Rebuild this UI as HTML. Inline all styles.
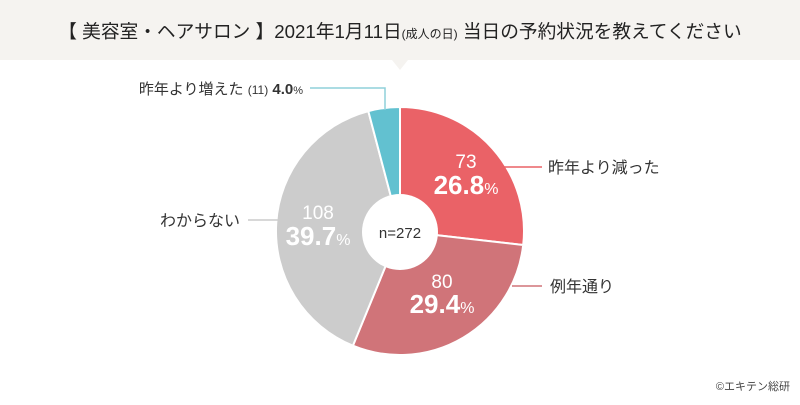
<!DOCTYPE html>
<html><head><meta charset="utf-8"><style>
body{margin:0;width:800px;height:400px;background:#fff;overflow:hidden;font-family:"Liberation Sans","Noto Sans CJK JP",sans-serif;}
</style></head><body>
<svg width="800" height="400" xmlns="http://www.w3.org/2000/svg" style="font-family:'Liberation Sans','Noto Sans CJK JP',sans-serif">
<rect x="0" y="0" width="800" height="60" fill="#f5f3f0"/>
<polygon points="392,60 408,60 400,70" fill="#f5f3f0"/>
<text x="400" y="38" text-anchor="middle" font-size="18.7" fill="#222">【 美容室・ヘアサロン 】2021年1月11日<tspan font-size="12">(成人の日)</tspan> 当日の予約状況を教えてください</text>
<g stroke="#fff" stroke-width="2">
<path d="M400,231 L400,107 A124,124 0 0 1 523.2,245 Z" fill="#ea6267"/>
<path d="M400,231 L523.2,245 A124,124 0 0 1 352.9,345.7 Z" fill="#d07479"/>
<path d="M400,231 L352.9,345.7 A124,124 0 0 1 368.3,111.1 Z" fill="#cccccc"/>
<path d="M400,231 L368.3,111.1 A124,124 0 0 1 400,107 Z" fill="#62c1d0"/>
</g>
<circle cx="400" cy="232" r="38" fill="#fff"/>
<text x="400" y="238" text-anchor="middle" font-size="15" fill="#333">n=272</text>
<g fill="#fff" text-anchor="middle">
<text x="466" y="168" font-size="19">73</text>
<text x="466" y="194" font-size="26" font-weight="bold">26.8<tspan font-size="16" font-weight="normal">%</tspan></text>
<text x="442" y="288" font-size="19">80</text>
<text x="442" y="313" font-size="26" font-weight="bold">29.4<tspan font-size="16" font-weight="normal">%</tspan></text>
<text x="318" y="219" font-size="19">108</text>
<text x="318" y="245" font-size="26" font-weight="bold">39.7<tspan font-size="16" font-weight="normal">%</tspan></text>
</g>
<polyline points="385,110 385,88 310,88" fill="none" stroke="#8fd0da" stroke-width="1.5"/>
<text x="303" y="94" text-anchor="end" font-size="15" fill="#333">昨年より増えた <tspan font-size="12">(11)</tspan> <tspan font-weight="bold">4.0</tspan><tspan font-size="11">%</tspan></text>
<line x1="500" y1="167" x2="542" y2="167" stroke="#ea6267" stroke-width="1.5"/>
<text x="548" y="173" font-size="16" fill="#333">昨年より減った</text>
<line x1="512" y1="286" x2="542" y2="286" stroke="#d07479" stroke-width="1.5"/>
<text x="550" y="292" font-size="16" fill="#333">例年通り</text>
<line x1="248" y1="220" x2="283" y2="220" stroke="#ccc" stroke-width="1.5"/>
<text x="240" y="226" text-anchor="end" font-size="16" fill="#333">わからない</text>
<text x="790" y="390" text-anchor="end" font-size="11" fill="#444">©エキテン総研</text>
</svg>
</body></html>
